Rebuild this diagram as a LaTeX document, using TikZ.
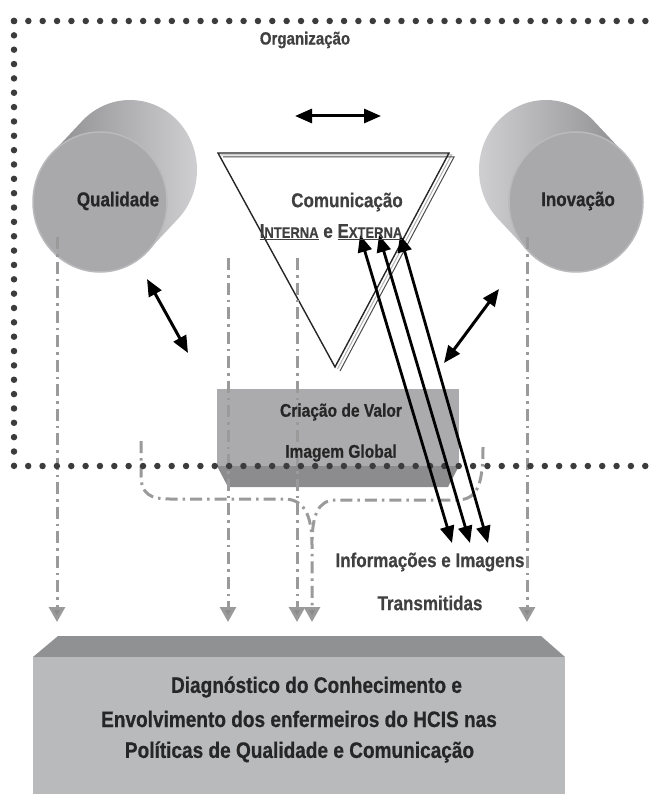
\documentclass[tikz,border=0pt]{standalone}
\usepackage{fontspec}
\setmainfont[FakeStretch=0.85, BoldFeatures={FakeBold=0.6}]{Liberation Sans}
\usetikzlibrary{arrows.meta,calc}

\definecolor{txtdark}{HTML}{262626}
\definecolor{txtgray}{HTML}{404040}
\definecolor{dotgray}{HTML}{3C3C3C}
\definecolor{flowgray}{HTML}{9A9A9A}
\definecolor{facegray}{HTML}{A9A9AB}
\definecolor{cyldark}{HTML}{848486}
\definecolor{cyllight}{HTML}{D2D2D4}
\definecolor{boxlight}{HTML}{ABABAD}
\definecolor{boxdark}{HTML}{8C8C8E}
\definecolor{basetop}{HTML}{909193}
\definecolor{basefront}{HTML}{B9BABC}

\tikzset{
  lbl/.style={inner sep=0pt, text=txtdark, font=\bfseries\fontsize{20}{23}\selectfont},
  smalllbl/.style={lbl, font=\bfseries\fontsize{18.3}{21}\selectfont},
  baselbl/.style={lbl, text=black!85, font=\bfseries\fontsize{22.4}{26}\selectfont},
  border/.style={draw=dotgray, line width=6.5pt, line cap=round, dash pattern=on 0pt off 14.35pt},
  flow/.style={draw=flowgray, line width=3pt, dash pattern=on 12pt off 5pt on 2.5pt off 5pt,
    -{Triangle[length=15pt,width=16pt,fill=flowgray!90!black]}},
  blackarrow/.style={draw=black, line width=3pt,
    {Triangle[length=17pt,width=14pt]}-{Triangle[length=17pt,width=14pt]}},
  face/.style={fill=facegray, draw=facegray!80!white, line width=1.5pt}
}

\begin{document}
\begin{tikzpicture}[x=1pt,y=-1pt]
\useasboundingbox (0,0) rectangle (656,794);

% cylinders
\coordinate (qf) at (100,202);
\coordinate (qb) at (130,170);
\coordinate (nf) at (576,202);
\coordinate (nb) at (546,170);
\shade[left color=cyldark, right color=cyllight]
  ($(qf)+(43.2:67 and 70)$) -- ($(qb)+(43.2:67 and 70)$)
  arc[start angle=43.2, end angle=-136.8, x radius=67, y radius=70]
  -- ($(qf)+(-136.8:67 and 70)$)
  arc[start angle=-136.8, end angle=-316.8, x radius=67, y radius=70] -- cycle;
\draw[face] (qf) ellipse[x radius=67, y radius=70];
\shade[left color=cyllight, right color=cyldark]
  ($(nf)+(-43.2:67 and 70)$) -- ($(nb)+(-43.2:67 and 70)$)
  arc[start angle=-43.2, end angle=-223.2, x radius=67, y radius=70]
  -- ($(nf)+(-223.2:67 and 70)$)
  arc[start angle=-223.2, end angle=-403.2, x radius=67, y radius=70] -- cycle;
\draw[face] (nf) ellipse[x radius=67, y radius=70];

% triangle
\coordinate (tl) at (218,153);
\coordinate (tr) at (449,153);
\coordinate (tv) at (335,367);
\draw[gray!60, line width=1pt] ($(tl)+(2.5,2)$) -- ($(tr)+(2.5,2)$) -- ($(tv)+(2.5,2)$);
\draw[black!70, line width=1pt] ($(tl)+(5,4)$) -- ($(tr)+(5,4)$) -- ($(tv)+(5,4)$);
\draw[black!85, line width=1.4pt, line join=miter] (tl) -- (tr) -- (tv) -- cycle;

% boxes
\fill[boxlight] (217,389) rectangle (459,466);
\fill[boxdark] (217,466) -- (459,466) -- (448,487) -- (228,487) -- cycle;
\fill[basetop] (58,636) -- (541,636) -- (565,657) -- (33,657) -- cycle;
\fill[basefront] (33,657) rectangle (565,794);

% dash-dot flows
\coordinate (fa) at (57,237);   \coordinate (ga) at (57,622);
\coordinate (fb) at (228,258);  \coordinate (gb) at (228,622);
\coordinate (fc) at (297,258);  \coordinate (gc) at (297,622);
\coordinate (fd) at (527,237);  \coordinate (gd) at (527,622);
\coordinate (fl) at (141,441);
\coordinate (fr) at (483,447);
\coordinate (gm) at (312,622);
\foreach \s/\e in {fa/ga, fb/gb, fc/gc, fd/gd}
  \draw[flow] (\s) -- (\e);
\draw[flow] (fl) -- (141,475) .. controls (141,494) and (150,499) .. (170,499) -- (284,499)
  .. controls (304,499) and (312,515) .. (312,545) -- (gm);
\draw[flow, -] (fr) .. controls (483,488) and (476,500) .. (456,500) -- (336,500)
  .. controls (318,500) and (312,515) .. (312,545);

% organisation border
\draw[border] (14,21) -- (656,21);
\draw[border] (14,21) -- (14,466) -- (656,466);

% arrows
\coordinate (ta) at (295,116);  \coordinate (tb) at (381,116);
\coordinate (la) at (147,279);  \coordinate (lb) at (188,353);
\coordinate (ra) at (499,289);  \coordinate (rb) at (444,363);
\coordinate (e1) at (360,235);  \coordinate (i1) at (452,543);
\coordinate (e2) at (379,235);  \coordinate (i2) at (470,543);
\coordinate (e3) at (400,235);  \coordinate (i3) at (488,543);
\draw[blackarrow] (ta) -- (tb);
\draw[blackarrow] (la) -- (lb);
\draw[blackarrow] (ra) -- (rb);
\foreach \a/\b in {e1/i1, e2/i2, e3/i3}
  \draw[blackarrow, line width=2.8pt] (\a) -- (\b);

% labels
\node[lbl, text=txtgray, font=\bfseries\fontsize{17.7}{20}\selectfont] (org) at (305,40) {Organização};
\node[lbl] (qual) at (118,201) {Qualidade};
\node[lbl] (inov) at (578,201) {Inovação};
\node[lbl, text=txtgray] (com) at (347,202) {Comunicação};
\node[lbl, text=txtgray] (intext) at (331,232)
  {\underline{I{\fontsize{15.3}{17}\selectfont NTERNA}} e \underline{E{\fontsize{15.3}{17}\selectfont XTERNA}}};
\node[smalllbl] (valor) at (341,412) {Criação de Valor};
\node[smalllbl] (global) at (341,453) {Imagem Global};
\node[lbl, text=txtgray] (info) at (430,562) {Informações e Imagens};
\node[lbl, text=txtgray] (trans) at (430,603) {Transmitidas};
\node[baselbl] (diag) at (316.5,687) {Diagnóstico do Conhecimento e};
\node[baselbl] (envol) at (299,719) {Envolvimento dos enfermeiros do HCIS nas};
\node[baselbl] (polit) at (299.5,752) {Políticas de Qualidade e Comunicação};
\end{tikzpicture}
\end{document}
